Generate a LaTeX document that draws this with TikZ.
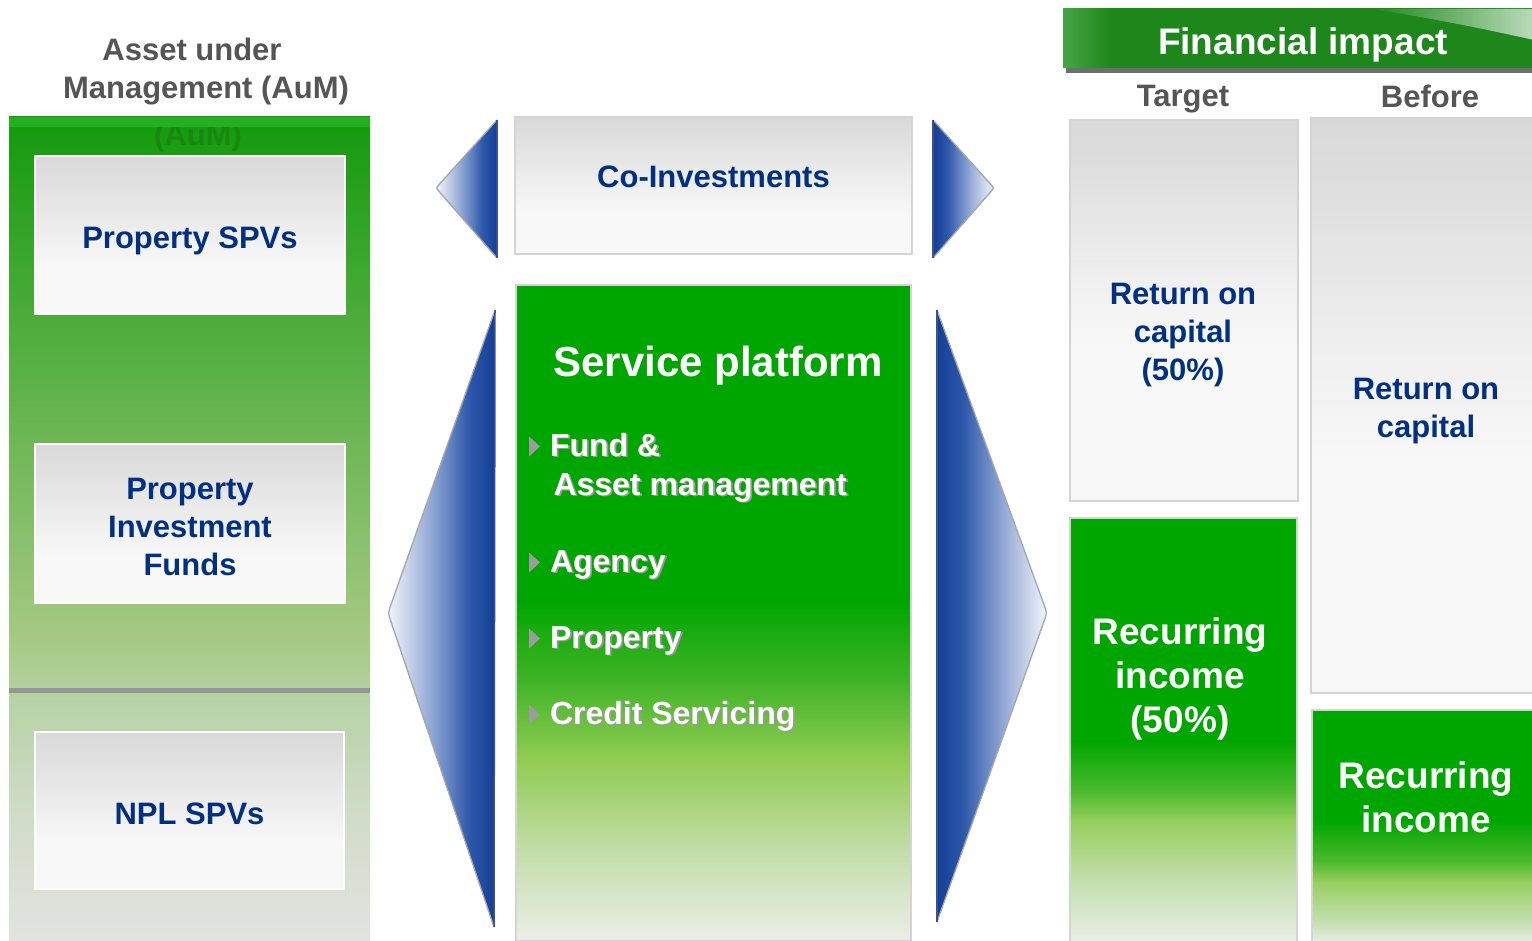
\documentclass[tikz,border=0pt]{standalone}
\usepackage{fontspec}
\setmainfont{Liberation Sans}
\usetikzlibrary{fadings}

% text and line colours
\definecolor{navy}{HTML}{00307F}
\definecolor{titlegrey}{HTML}{555555}
\definecolor{ghostgreen}{HTML}{18880F}
\definecolor{stripgreen}{HTML}{22B022}
\definecolor{sepgrey}{HTML}{969696}
\definecolor{boxedge}{HTML}{D4D4D4}
\definecolor{markgrey}{HTML}{9C9C9C}
\definecolor{textshadow}{HTML}{9A9A9A}
\definecolor{tipgrey}{HTML}{A2A6B0}
\definecolor{basenavy}{HTML}{3A4F96}
\definecolor{bannershadow}{HTML}{6E6E6E}

% gradient stops
\definecolor{aum0}{HTML}{139A0C}
\definecolor{aum2}{HTML}{A6C984}
\definecolor{aum3}{HTML}{B6D3A6}
\definecolor{aum4}{HTML}{D2DCCA}
\definecolor{aum5}{HTML}{E2E3E0}
\definecolor{sp0}{HTML}{00A600}
\definecolor{sp1}{HTML}{3EB326}
\definecolor{sp2}{HTML}{92CC52}
\definecolor{sp3}{HTML}{C2DDA8}
\definecolor{sp4}{HTML}{ECEEE8}
\definecolor{ri1}{HTML}{4CBA2E}
\definecolor{ri2}{HTML}{96CF5E}
\definecolor{ri3}{HTML}{C4DFB0}
\definecolor{ri4}{HTML}{EAEEE8}
\definecolor{gb0}{HTML}{D9D9D9}
\definecolor{gb1}{HTML}{EFEFEF}
\definecolor{gb2}{HTML}{F8F8F8}
\definecolor{gb3}{HTML}{DDDDDD}
\definecolor{ab0}{HTML}{F2F4FA}
\definecolor{ab1}{HTML}{B6C4E2}
\definecolor{ab2}{HTML}{6C8AC6}
\definecolor{ab3}{HTML}{2E58AA}
\definecolor{ab4}{HTML}{123E94}
\definecolor{bn0}{HTML}{46A646}
\definecolor{bn1}{HTML}{1E871C}

\pgfdeclareverticalshading{aumpanel}{100bp}{color(0bp)=(aum5); color(25bp)=(aum5);
  color(32.3bp)=(aum4); color(39.6bp)=(aum3); color(43.3bp)=(aum2); color(75bp)=(aum0); color(100bp)=(aum0)}
\pgfdeclareverticalshading{platform}{100bp}{color(0bp)=(sp4); color(25bp)=(sp4);
  color(32bp)=(sp3); color(38.8bp)=(sp2); color(45bp)=(sp1); color(51bp)=(sp0); color(100bp)=(sp0)}
\pgfdeclareverticalshading{incometall}{100bp}{color(0bp)=(ri4); color(25bp)=(ri4);
  color(32.2bp)=(ri3); color(39.3bp)=(ri2); color(42.85bp)=(ri1); color(48.75bp)=(sp0); color(100bp)=(sp0)}
\pgfdeclareverticalshading{incomeshort}{100bp}{color(0bp)=(ri4); color(25bp)=(ri4);
  color(29.5bp)=(ri3); color(38.2bp)=(ri2); color(42.5bp)=(ri1); color(51.2bp)=(sp0); color(100bp)=(sp0)}
\pgfdeclareverticalshading{greybox}{100bp}{color(0bp)=(gb2); color(40bp)=(gb2);
  color(50bp)=(gb1); color(75bp)=(gb0); color(100bp)=(gb0)}
\pgfdeclareverticalshading{greytall}{100bp}{color(0bp)=(gb2); color(45bp)=(gb2);
  color(55bp)=(gb1); color(70bp)=(gb3); color(75bp)=(gb0); color(100bp)=(gb0)}
\pgfdeclarehorizontalshading{arrowblue}{100bp}{color(0bp)=(ab0); color(25bp)=(ab0);
  color(38bp)=(ab1); color(52bp)=(ab2); color(63bp)=(ab3); color(75bp)=(ab4); color(100bp)=(ab4)}
\pgfdeclarehorizontalshading{bannershade}{100bp}{color(0bp)=(bn0); color(25bp)=(bn0);
  color(30bp)=(bn1); color(100bp)=(bn1)}

\tikzfading[name=shinefade, left color=transparent!100, right color=transparent!30]

% white text with a soft grey drop shadow
\newcommand\shadowed[1]{\makebox[0pt][l]{\hspace{1.8pt}\raisebox{-1.8pt}{\color{textshadow}#1}}#1}

\begin{document}
\begin{tikzpicture}[x=1pt,y=-1pt,
  every node/.style={inner sep=0pt,outer sep=0pt},
  greytext/.style={font=\fontsize{31}{38}\selectfont\bfseries, text=titlegrey, align=center},
  navytext/.style={font=\fontsize{31}{38}\selectfont\bfseries, text=navy, align=center},
  whitebig/.style={font=\fontsize{37}{44}\selectfont\bfseries, text=white, align=center},
  itemtext/.style={font=\fontsize{32}{38}\selectfont\bfseries, text=white, anchor=base west},
  aumbox/.style={rectangle, shade, shading=greybox, draw=white, line width=2.5pt},
  greypanel/.style={rectangle, shade, shading=#1, draw=boxedge, line width=2pt},
  greenpanel/.style={rectangle, shade, shading=#1, draw=boxedge, line width=1.2pt},
  tipline/.style={draw=tipgrey, line width=1.3pt, line join=round},
  arrowbase/.style={draw=basenavy, line width=1.5pt},
  itemmark/.pic={\fill[markgrey] (0,-10) -- (11,0) -- (0,10) -- cycle;}
]
\useasboundingbox (0,0) rectangle (1532,941);

% ---------- assets under management ----------
\node (aumtitle) [greytext] at (206,72) {Asset under\hspace*{28pt}\\Management (AuM)};
\node (aum) [rectangle, shade, shading=aumpanel, minimum width=361pt, minimum height=824pt] at (189.5,529) {};
\node (aumghost) [font=\fontsize{31}{38}\selectfont\bfseries, text=ghostgreen] at (198,137) {(AuM)};
\fill[stripgreen] (aum.north west) rectangle ([yshift=-10pt]aum.north east);
\draw[sepgrey, line width=5pt] ([yshift=-161pt]aum.west) -- ([yshift=-161pt]aum.east);

\node (spv) [aumbox, minimum width=310pt, minimum height=158pt] at (190,235) {};
\node (spvtext) [navytext] at (190,241) {Property SPVs};
\node (pif) [aumbox, minimum width=310pt, minimum height=159pt] at (190,523.5) {};
\node (piftext) [navytext] at (190,527) {Property\\Investment\\Funds};
\node (npl) [aumbox, minimum width=309pt, minimum height=157pt] at (189.5,810.5) {};
\node (npltext) [navytext] at (189.5,814) {NPL SPVs};

% ---------- co-investments and service platform ----------
\node (coinv) [greypanel=greybox, minimum width=397pt, minimum height=137pt] at (713.5,185.5) {};
\node (coinvtext) [navytext] at (713.5,177) {Co-Investments};

\node (platform) [greenpanel=platform, minimum width=395pt, minimum height=656pt] at (713.5,613) {};
\node (platformtext) [font=\fontsize{42}{50}\selectfont\bfseries, text=white] at (718,366) {Service platform};

\node (fund)     [itemtext] at (550,456)   {\shadowed{Fund \&}};
\node (fundmore) [itemtext] at (553.5,495) {\shadowed{Asset management}};
\node (agency)   [itemtext] at (550,572)   {\shadowed{Agency}};
\node (property) [itemtext] at (550,648)   {\shadowed{Property}};
\node (credit)   [itemtext] at (550,724)   {\shadowed{Credit Servicing}};
\foreach \item in {fund,agency,property,credit}
  \pic at ([shift={(-21pt,9.5pt)}]\item.base west) {itemmark};

% ---------- blue arrow heads ----------
\shade[shading=arrowblue] (497,120) -- (439.3,184.3) .. controls (436,188) .. (439.3,191.8) -- (497,258) -- cycle;
\path[tipline] (497,120) -- (439.3,184.3) .. controls (436,188) .. (439.3,191.8) -- (497,258);
\path[arrowbase] (497,120) -- (497,258);

\shade[shading=arrowblue, shading angle=180] (933,120) -- (990.7,184.3) .. controls (994,188) .. (990.7,191.8) -- (933,258) -- cycle;
\path[tipline] (933,120) -- (990.7,184.3) .. controls (994,188) .. (990.7,191.8) -- (933,258);
\path[arrowbase] (933,120) -- (933,258);

\shade[shading=arrowblue] (495,310) -- (390.7,605.4) .. controls (388,613) .. (390.6,620.6) -- (494,927) -- cycle;
\path[tipline] (495,310) -- (390.7,605.4) .. controls (388,613) .. (390.6,620.6) -- (494,927);
\path[arrowbase] (495,310) -- (494,927);

\shade[shading=arrowblue, shading angle=180] (937,310) -- (1044.3,605.5) .. controls (1047,613) .. (1044.3,620.5) -- (937,922) -- cycle;
\path[tipline] (937,310) -- (1044.3,605.5) .. controls (1047,613) .. (1044.3,620.5) -- (937,922);
\path[arrowbase] (937,310) -- (937,922);

% ---------- financial impact ----------
\fill[bannershadow] (1066,66) rectangle (1534,73);
\node (banner) [rectangle, shade, shading=bannershade, minimum width=471pt, minimum height=59pt] at (1298.5,38.5) {};
\fill[white, path fading=shinefade] (1370,9) -- (1534,9) -- (1534,40) .. controls (1480,28) and (1420,16) .. (1370,9) -- cycle;
\node (bannertext) [whitebig] at (1303,45) {Financial impact};

\node (target) [greytext] at (1183,99) {Target};
\node (before) [greytext] at (1430,96) {Before};

\node (troc) [greypanel=greytall, minimum width=228pt, minimum height=381pt] at (1184,310.5) {};
\node (troctext) [navytext] at (1183,335) {Return on\\capital\\(50\%)};
\node (tinc) [greenpanel=incometall, minimum width=227pt, minimum height=425pt] at (1183.5,730.5) {};
\node (tinctext) [whitebig] at (1180,679) {Recurring\\income\\(50\%)};

\node (broc) [greypanel=greytall, minimum width=224pt, minimum height=575pt] at (1423,405.5) {};
\node (broctext) [navytext] at (1426,411) {Return on\\capital};
\node (binc) [greenpanel=incomeshort, minimum width=224pt, minimum height=233pt] at (1424,826.5) {};
\node (binctext) [whitebig] at (1426,797) {Recurring\\income};
\end{tikzpicture}
\end{document}
